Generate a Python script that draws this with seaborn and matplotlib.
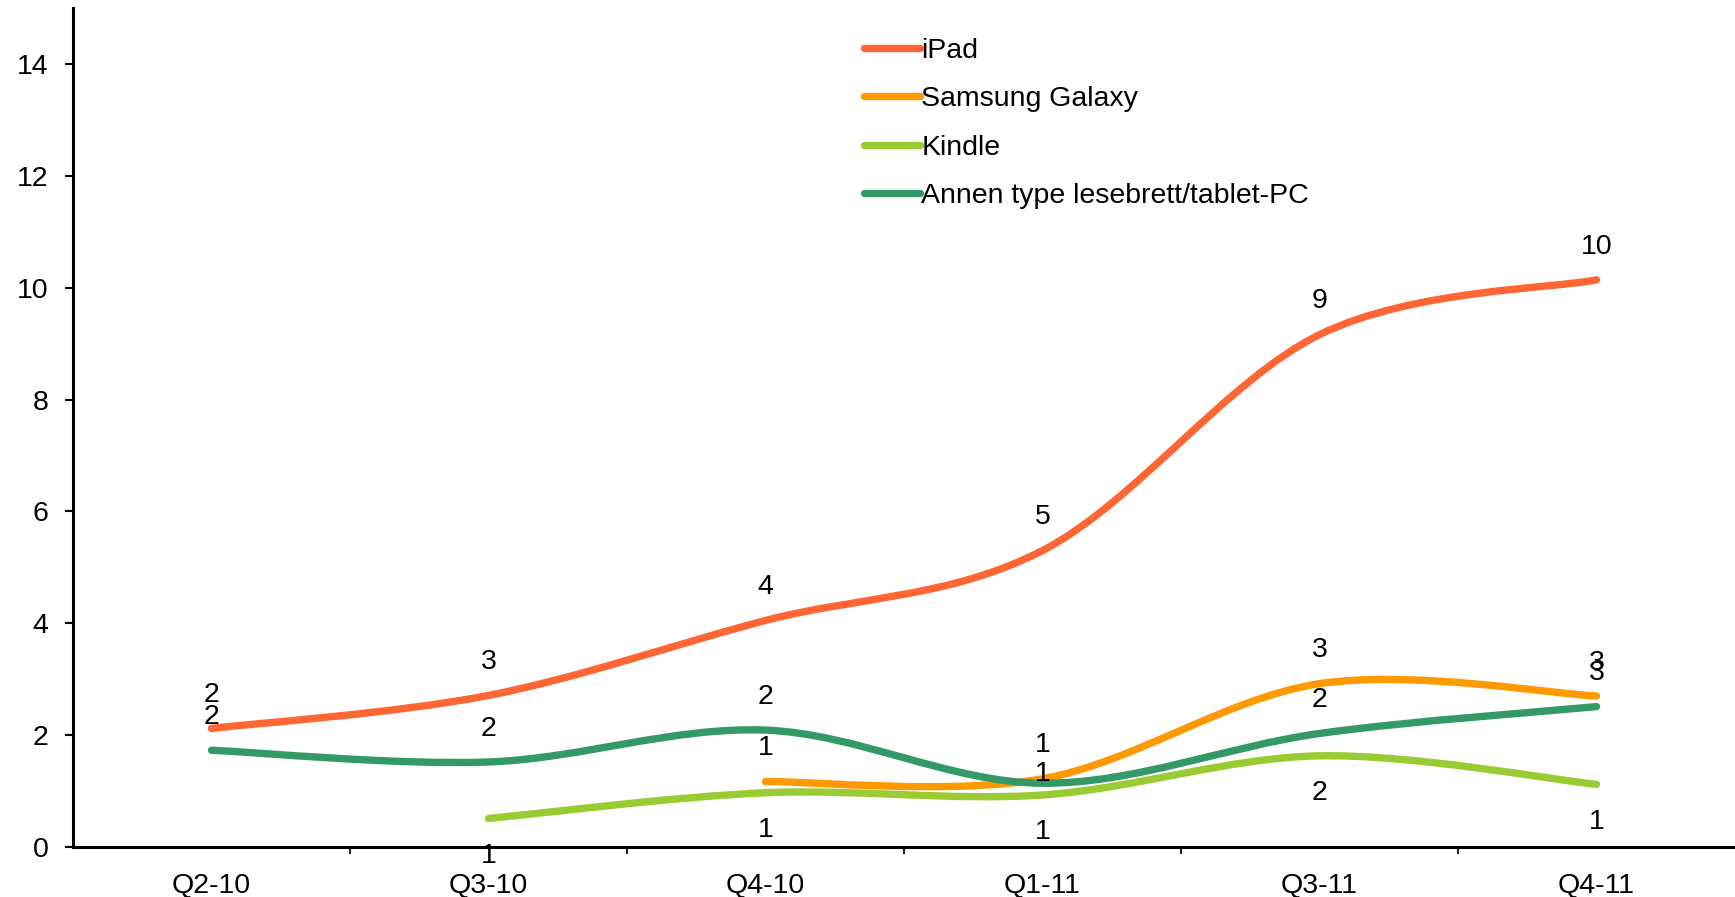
import numpy as np
import pandas as pd
import matplotlib
matplotlib.use("Agg")
import matplotlib.pyplot as plt
import seaborn as sns
from matplotlib.path import Path
from matplotlib.patches import PathPatch
from matplotlib.lines import Line2D

quarters = ["Q2-10", "Q3-10", "Q4-10", "Q1-11", "Q3-11", "Q4-11"]
ipad = [2.12, 2.71, 4.05, 5.30, 9.16, 10.14]
samsung = [np.nan, np.nan, 1.17, 1.22, 2.92, 2.70]
kindle = [np.nan, 0.51, 0.97, 0.93, 1.63, 1.12]
annen = [1.73, 1.52, 2.09, 1.14, 2.03, 2.51]
names = ["iPad", "Samsung Galaxy", "Kindle", "Annen type lesebrett/tablet-PC"]
colors = ["#FF6633", "#FF9900", "#99CC33", "#339966"]

sns.set_style("white")
plt.rcParams["font.family"] = ["Liberation Sans", "DejaVu Sans"]

rows = []
for name, vals in zip(names, [ipad, samsung, kindle, annen]):
    for i, v in enumerate(vals):
        rows.append({"pos": i, "value": v, "series": name})
df = pd.DataFrame(rows).dropna()

W, H = 1735, 897
fig = plt.figure(figsize=(W / 100, H / 100), dpi=100)
ax = fig.add_axes([73 / W, 50 / H, 1 - 73 / W, 839 / H])

LW = 5.3
sns.lineplot(data=df, x="pos", y="value", hue="series", hue_order=names,
             palette=colors, linewidth=LW, errorbar=None, legend=False, ax=ax)


def smooth_path(x, y):
    # Excel-style smoothed line: cubic Bezier through the points
    px = np.concatenate([[x[0]], x, [x[-1]]])
    py = np.concatenate([[y[0]], y, [y[-1]]])
    verts = [(x[0], y[0])]
    codes = [Path.MOVETO]
    for i in range(1, len(px) - 2):
        c1 = (px[i] + (px[i + 1] - px[i - 1]) / 6, py[i] + (py[i + 1] - py[i - 1]) / 6)
        c2 = (px[i + 1] - (px[i + 2] - px[i]) / 6, py[i + 1] - (py[i + 2] - py[i]) / 6)
        verts += [c1, c2, (px[i + 1], py[i + 1])]
        codes += [Path.CURVE4] * 3
    return Path(verts, codes)


for line, color in zip(list(ax.lines), colors):
    x = np.asarray(line.get_xdata(), float)
    y = np.asarray(line.get_ydata(), float)
    ok = ~np.isnan(y)
    patch = PathPatch(smooth_path(x[ok], y[ok]), fill=False, edgecolor=color,
                      linewidth=LW, capstyle="round", joinstyle="round")
    ax.add_patch(patch)
    line.set_visible(False)

# data labels
label_off = {"iPad": 24, "Samsung Galaxy": 24, "Kindle": -27,
             "Annen type lesebrett/tablet-PC": 24}
special = {("Annen type lesebrett/tablet-PC", 3): 7}
for name, vals in zip(names, [ipad, samsung, kindle, annen]):
    for i, v in enumerate(vals):
        if np.isnan(v):
            continue
        off = special.get((name, i), label_off[name])
        ax.annotate(str(int(np.floor(v + 0.5))), (i, v), xytext=(0, off),
                    textcoords="offset points", ha="center", va="center",
                    fontsize=20.5, color="black")

ax.set_xlim(-0.5, 5.5)
ax.set_ylim(0, 15)
ax.set_yticks(range(0, 15, 2))
ax.set_xticks(range(len(quarters)))
ax.set_xticklabels(quarters)
ax.set_xticks(np.arange(0.5, 5, 1), minor=True)
ax.set_xlabel("")
ax.set_ylabel("")

ax.tick_params(axis="y", direction="out", length=5.5, width=1.5, pad=12,
               labelsize=20.5, left=True, colors="black")
ax.tick_params(axis="x", which="major", length=0, pad=18.5, labelsize=20.5, colors="black")
ax.tick_params(axis="x", which="minor", direction="out", length=5, width=1.5, bottom=True)
sns.despine(ax=ax)
for side in ["left", "bottom"]:
    ax.spines[side].set_linewidth(2.2)
    ax.spines[side].set_color("black")

handles = [Line2D([], [], color=c, linewidth=LW, solid_capstyle="round") for c in colors]
ax.legend(handles, names, loc="upper left", bbox_to_anchor=(850 / W, 1 - 24 / H),
          bbox_transform=fig.transFigure, frameon=False, fontsize=20.5,
          handlelength=1.95, handletextpad=0.05, labelspacing=0.78, borderpad=0,
          labelcolor="black")

fig.savefig("out.png", dpi=100)
